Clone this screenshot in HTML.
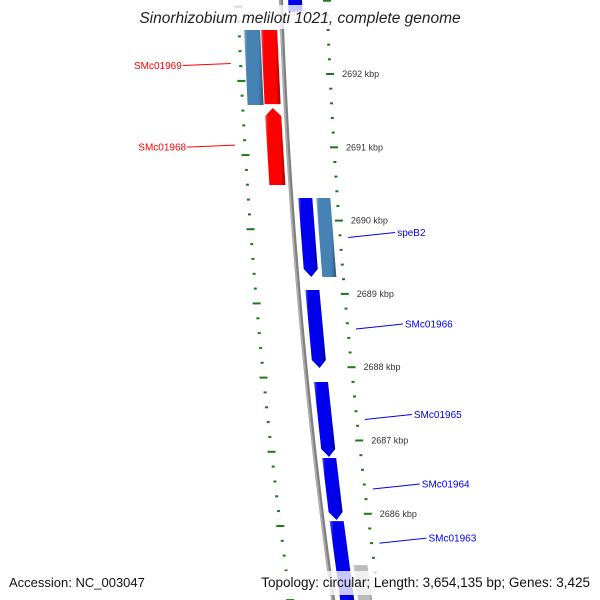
<!DOCTYPE html>
<html><head><meta charset="utf-8"><style>
html,body{margin:0;padding:0;background:#fff;width:600px;height:600px;overflow:hidden;}
svg{display:block;font-family:"Liberation Sans","DejaVu Sans",sans-serif;overflow:hidden;}
</style></head><body>
<svg id="map" width="600" height="600" viewBox="0 0 600 600" xmlns="http://www.w3.org/2000/svg">
<defs>
<linearGradient id="shade" x1="0" y1="0" x2="1" y2="0">
<stop offset="0" stop-color="#fff" stop-opacity="0.35"/>
<stop offset="0.15" stop-color="#fff" stop-opacity="0"/>
<stop offset="0.75" stop-color="#000" stop-opacity="0"/>
<stop offset="1" stop-color="#000" stop-opacity="0.35"/>
</linearGradient>
</defs>
<g id="ticks"></g>
<g id="backbone"></g>
<g id="genes"></g>
<g id="labels"></g>
<rect x="128" y="5" width="344" height="24" fill="#fff" fill-opacity="0.78"/>
<text x="300" y="23" text-anchor="middle" font-size="15.5" font-style="italic" fill="#222">Sinorhizobium meliloti 1021, complete genome</text>
<rect x="4" y="571" width="140" height="24" fill="#fff" fill-opacity="0.78"/>
<text x="9" y="587" font-size="13" fill="#111">Accession: NC_003047</text>
<rect x="256" y="571" width="342" height="24" fill="#fff" fill-opacity="0.78"/>
<text x="590" y="587" text-anchor="end" font-size="13.5" fill="#111">Topology: circular; Length: 3,654,135 bp; Genes: 3,425</text>
</svg>
<script>
const geneStart=[2693300,2692600,2692600,2691536,2690308,2690308,2689053,2687798,2686761,2685900,2685300];
const geneEnd=[2692850,2691577,2691590,2690486,2689231,2689231,2687989,2686775,2685915,2684600,2684600];
const geneTrack=['R1','L2','L1','L1','R1','R2','R1','R1','R1','R1','R2'];
const geneStrand=[0,0,0,1,-1,0,-1,-1,-1,-1,0];
const geneColor=['#0000ee','#4682b4','#ff0000','#ff0000','#0000ee','#4682b4','#0000ee','#0000ee','#0000ee','#0000ee','#bbbbbb'];
const labelNames=['SMc01969','SMc01968','speB2','SMc01966','SMc01965','SMc01964','SMc01963'];
const labelBp=[2692180,2691080,2689770,2688521,2687287,2686338,2685600];
const labelSide=[-1,-1,1,1,1,1,1];
const labelColor=['#ff0000','#ff0000','#0000ee','#0000ee','#0000ee','#0000ee','#0000ee'];

const NS='http://www.w3.org/2000/svg';
const yOf=bp=>74+(2692000-bp)/1000*73.3;
const bx=y=>281+0.035*y+0.0000865*y*y;
const tracks={L2:[-38,-22],L1:[-21,-5],R1:[7,21],R2:[25,39]};
function mk(tag,attrs,parent){const e=document.createElementNS(NS,tag);for(const k in attrs)e.setAttribute(k,attrs[k]);parent.appendChild(e);return e;}

const bb=document.getElementById('backbone');
let d='';for(let y=-5;y<=605;y+=5){d+=(y===-5?'M':'L')+bx(y).toFixed(2)+','+y+' ';}
const bl=mk('path',{d:d,stroke:'#808080','stroke-width':4,fill:'none'},bb);


const bl2=mk('path',{d:d,stroke:'#b0b0b0','stroke-width':1.5,fill:'none',transform:'translate(-1,0)'},bb);



const tg=document.getElementById('ticks');
for(let bp=2693000;bp>=2684800;bp-=200){
  const y=yOf(bp);
  const major=(bp%1000===0);
  const xr=bx(y)+46;
  const r=mk('rect',{x:(major?xr-4:xr-1.5).toFixed(1),y:(y-1).toFixed(1),width:major?8:3,height:2,fill:'#1a7a1a'},tg);
  
  
  if(major && y>30 && y<560){
    const t=mk('text',{x:(xr+12).toFixed(1),y:(y+3).toFixed(1),'font-size':9,fill:'#333'},tg);
    t.textContent=(bp/1000)+' kbp';
    
    
  }
  const yl=y+6+0.012*y;
  const xl=bx(yl)-43;
  const l=mk('rect',{x:(major?xl-4:xl-1.5).toFixed(1),y:(yl-1).toFixed(1),width:major?8:3,height:2,fill:'#1a7a1a'},tg);
  
  
}

const gg=document.getElementById('genes');
for(let i=0;i<geneStart.length;i++){
  const y1=yOf(geneStart[i]),y2=yOf(geneEnd[i]);
  const [o1,o2]=tracks[geneTrack[i]];
  const mid=(o1+o2)/2;const A=8;
  let pts=[];
  const P=(y,o)=>[bx(y)+o,y];
  if(geneStrand[i]===-1){
    pts=[P(y1,o1),P(y1,o2),P(y2-A,o2),P(y2,mid),P(y2-A,o1)];
  }else if(geneStrand[i]===1){
    pts=[P(y1,mid),P(y1+A,o2),P(y2,o2),P(y2,o1),P(y1+A,o1)];
  }else{
    pts=[P(y1,o1),P(y1,o2),P(y2,o2),P(y2,o1)];
  }
  const ps=pts.map(p=>p[0].toFixed(1)+','+p[1].toFixed(1)).join(' ');
  const g=mk('polygon',{points:ps,fill:geneColor[i]},gg);
  
  
  const s=mk('polygon',{points:ps,fill:'url(#shade)'},gg);
  
  
}

const lg=document.getElementById('labels');
for(let i=0;i<labelNames.length;i++){
  const y=yOf(labelBp[i]);
  let x0,x1,ys,ye;
  if(labelSide[i]>0){x0=bx(y)+54;x1=x0+47;ys=y;ye=y-5;}
  else{const yl=y+6+0.012*y;x0=bx(yl)-53;x1=x0-48;ys=yl-4;ye=yl-2;}
  const ln=mk('line',{x1:x0.toFixed(1),y1:ys.toFixed(1),x2:x1.toFixed(1),y2:ye.toFixed(1),stroke:labelColor[i],'stroke-width':1},lg);
  
  
  const t=mk('text',{x:(labelSide[i]>0?x1+2:x1-1).toFixed(1),y:(ye+3.5).toFixed(1),'font-size':10,fill:labelColor[i],'text-anchor':labelSide[i]>0?'start':'end'},lg);
  t.textContent=labelNames[i];
  
  
}
</script>
</body></html>
